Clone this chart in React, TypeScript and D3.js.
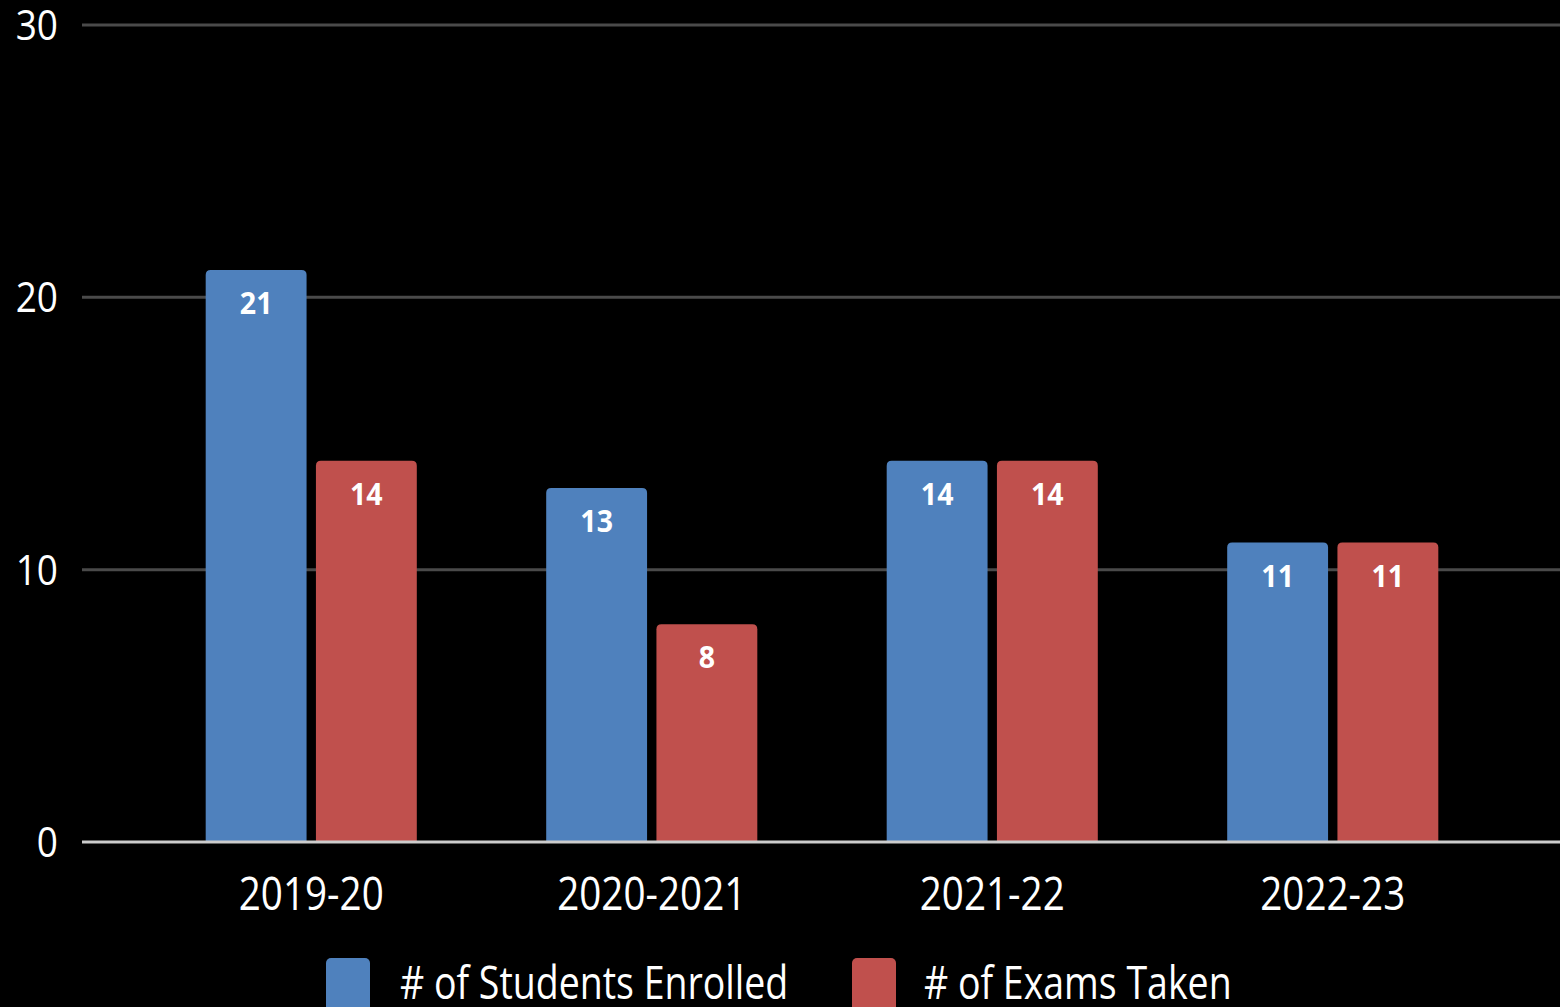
import React, { useEffect, useRef } from "react";
import * as d3 from "d3";

const categories = ["2019-20", "2020-2021", "2021-22", "2022-23"];
const seriesNames = ["# of Students Enrolled", "# of Exams Taken"];
const studentsEnrolled = [21, 13, 14, 11];
const examsTaken = [14, 8, 14, 11];
const yTicks = [0, 10, 20, 30];
const colors = ["#4F81BD", "#C0504D"];

const W = 1560;
const H = 1007;
const FONT = "'Open Sans', 'Noto Sans', sans-serif";

export default function App() {
  const ref = useRef<SVGSVGElement | null>(null);

  useEffect(() => {
    document.body.style.margin = "0";
    document.body.style.background = "#000";
    const svg = d3.select(ref.current);
    svg.selectAll("*").remove();

    const y = d3.scaleLinear().domain([0, 30]).range([842, 25]);
    const x0 = d3
      .scaleBand<string>()
      .domain(categories)
      .range([141, 1503])
      .paddingInner(0.38)
      .paddingOuter(0.19);
    const x1 = d3
      .scaleBand<string>()
      .domain(seriesNames)
      .range([0, x0.bandwidth()])
      .paddingInner(0.085);

    svg.append("rect").attr("width", W).attr("height", H).attr("fill", "#000");

    // gridlines
    const grid = svg.append("g");
    grid
      .selectAll("line")
      .data(yTicks.filter((t) => t !== 0))
      .join("line")
      .attr("x1", 82)
      .attr("x2", W)
      .attr("y1", (d) => y(d))
      .attr("y2", (d) => y(d))
      .attr("stroke", "#4a4a4a")
      .attr("stroke-width", 3);

    // y tick labels
    svg
      .append("g")
      .selectAll("text")
      .data(yTicks)
      .join("text")
      .attr("transform", (d) => `translate(58,${y(d)}) scale(0.88,1)`)
      .attr("text-anchor", "end")
      .attr("dy", "0.36em")
      .attr("fill", "#fff")
      .attr("font-family", FONT)
      .attr("font-size", 42)
      .text((d) => String(d));

    const data = categories.map((c, i) => ({
      category: c,
      values: [studentsEnrolled[i], examsTaken[i]],
    }));

    const r = 5;
    const barPath = (xl: number, w: number, top: number, bottom: number) =>
      `M${xl},${bottom}V${top + r}Q${xl},${top} ${xl + r},${top}H${xl + w - r}Q${xl + w},${top} ${xl + w},${top + r}V${bottom}Z`;

    const groups = svg
      .append("g")
      .selectAll("g")
      .data(data)
      .join("g")
      .attr("transform", (d) => `translate(${x0(d.category)},0)`);

    groups.each(function (d) {
      const g = d3.select(this);
      d.values.forEach((v, si) => {
        const xl = x1(seriesNames[si])!;
        const w = x1.bandwidth();
        g.append("path")
          .attr("d", barPath(xl, w, y(v), y(0)))
          .attr("fill", colors[si]);
        g.append("text")
          .attr("transform", `translate(${xl + w / 2},${y(v) + 33}) scale(0.92,1)`)
          .attr("text-anchor", "middle")
          .attr("dy", "0.36em")
          .attr("fill", "#fff")
          .attr("font-family", FONT)
          .attr("font-weight", 700)
          .attr("font-size", 31)
          .text(String(v));
      });
    });

    // baseline
    svg
      .append("line")
      .attr("x1", 82)
      .attr("x2", W)
      .attr("y1", y(0))
      .attr("y2", y(0))
      .attr("stroke", "#ccc")
      .attr("stroke-width", 3);

    // category labels
    svg
      .append("g")
      .selectAll("text")
      .data(categories)
      .join("text")
      .attr(
        "transform",
        (d) => `translate(${x0(d)! + x0.bandwidth() / 2},${893}) scale(0.84,1)`
      )
      .attr("text-anchor", "middle")
      .attr("dy", "0.36em")
      .attr("fill", "#fff")
      .attr("font-family", FONT)
      .attr("font-size", 46)
      .text((d) => d);

    // legend
    const legendItems = [
      { name: seriesNames[0], x: 326, tx: 400 },
      { name: seriesNames[1], x: 852, tx: 924 },
    ];
    const lg = svg.append("g");
    legendItems.forEach((it, i) => {
      lg.append("rect")
        .attr("x", it.x)
        .attr("y", 958)
        .attr("width", 44)
        .attr("height", 60)
        .attr("rx", 5)
        .attr("fill", colors[i]);
      lg.append("text")
        .attr("transform", `translate(${it.tx},999) scale(0.815,1)`)
        .attr("fill", "#fff")
        .attr("font-family", FONT)
        .attr("font-size", 46)
        .text(it.name);
    });
  }, []);

  return (
    <svg
      ref={ref}
      width={W}
      height={H}
      style={{ display: "block", position: "absolute", left: 0, top: 0 }}
    />
  );
}
